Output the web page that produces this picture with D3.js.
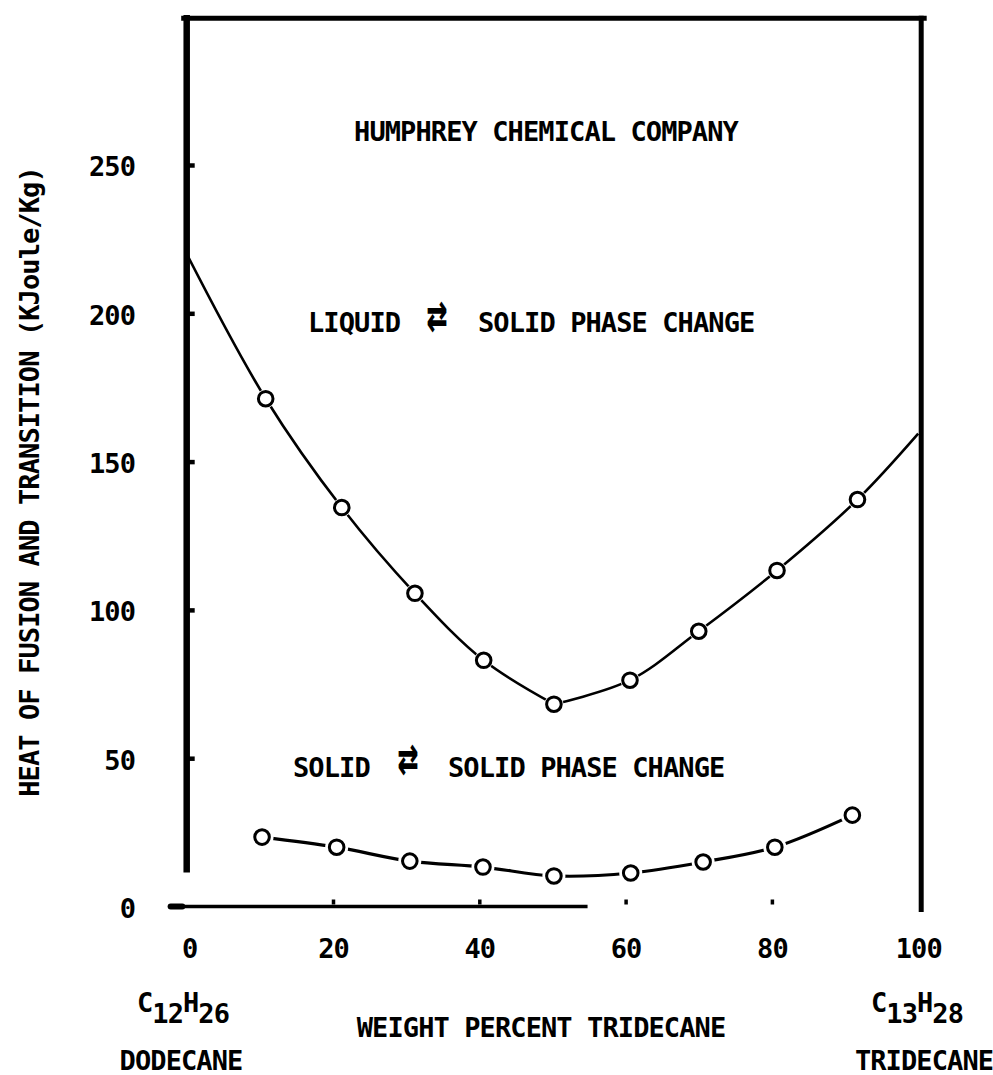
<!DOCTYPE html>
<html><head><meta charset="utf-8">
<script src="https://cdn.jsdelivr.net/npm/d3@7"></script>
<style>
body{margin:0;background:#fff}
svg{display:block}
text{font-family:"DejaVu Sans Mono",monospace;font-weight:bold;fill:#000;letter-spacing:-0.9px}
</style>
</head><body>
<svg id="chart" width="993" height="1075"></svg>
<script>
// ---- data ----
const xTicks = [0, 20, 40, 60, 80, 100];
const yTicks = [0, 50, 100, 150, 200, 250];
const liquidX = [10.8, 21.2, 31.2, 40.6, 50.2, 60.6, 70.0, 80.7, 91.7];
const liquidY = [171.2, 134.5, 105.6, 83.0, 68.2, 76.3, 92.8, 113.3, 137.2];
const liquidStart = [0, 220];      // curve meets left frame
const liquidEnd = [100, 159.4];    // curve meets right frame
const solidX = [10.3, 20.5, 30.5, 40.5, 50.2, 60.7, 70.6, 80.4, 91.0];
const solidY = [23.4, 20.0, 15.3, 13.3, 10.3, 11.3, 15.0, 20.0, 30.8];

const FS = 27;
const svg = d3.select("#chart");
const x = d3.scaleLinear().domain([0, 100]).range([186.7, 918.2]);
const y = d3.scaleLinear().domain([0, 250]).range([906.5, 165]);

// ---- frame ----
const frame = svg.append("g").attr("stroke", "#000").attr("fill", "none").attr("stroke-linecap", "square");
frame.append("line").attr("x1", x(0) - 3).attr("x2", x(100) + 6).attr("y1", y(299.5)).attr("y2", y(299.5)).attr("stroke-width", 5);
frame.append("line").attr("x1", x(0)).attr("x2", x(0)).attr("y1", y(299.5)).attr("y2", y(12.6)).attr("stroke-width", 6.5);
frame.append("line").attr("x1", x(100) + 3).attr("x2", x(100) + 3).attr("y1", y(299.5)).attr("y2", y(-1)).attr("stroke-width", 5);
frame.append("line").attr("x1", x(-2.2)).attr("x2", x(54.8)).attr("y1", y(0)).attr("y2", y(0)).attr("stroke-width", 3.5).attr("stroke-linecap", "butt");
frame.append("line").attr("x1", x(-2.2)).attr("x2", x(-0.6)).attr("y1", y(0)).attr("y2", y(0)).attr("stroke-width", 6).attr("stroke-linecap", "round");

// inner tick stubs (left) and tick dots (bottom)
svg.append("g").attr("transform", `translate(${x(0) + 2},0)`)
  .call(d3.axisRight(y).tickValues(yTicks.filter(d => d > 0)).tickSize(6).tickFormat(""))
  .call(g => g.select(".domain").remove())
  .selectAll("line").attr("stroke", "#000").attr("stroke-width", 4.5);
svg.append("g").attr("transform", `translate(0,${y(0) - 2})`)
  .call(d3.axisTop(x).tickValues(xTicks.filter(d => d > 0 && d < 100)).tickSize(5).tickFormat(""))
  .call(g => g.select(".domain").remove())
  .selectAll("line").attr("stroke", "#000").attr("stroke-width", 3.5);

// ---- axis labels ----
const yAx = svg.append("g").attr("transform", "translate(135,0)")
  .call(d3.axisLeft(y).tickValues(yTicks).tickSize(0).tickPadding(0).tickFormat(d3.format("d")));
yAx.select(".domain").remove();
yAx.attr("font-family", null).attr("font-size", null);
yAx.selectAll("text").attr("font-size", FS).attr("dy", "0.4em").attr("fill", "#000");

const xAx = svg.append("g").attr("transform", `translate(0,${y(0)})`)
  .call(d3.axisBottom(x).tickValues(xTicks).tickSize(0).tickPadding(32).tickFormat(d3.format("d")));
xAx.select(".domain").remove();
xAx.attr("font-family", null).attr("font-size", null);
xAx.selectAll("text").attr("font-size", FS).attr("fill", "#000");
xAx.selectAll(".tick").filter(d => d === 0).attr("transform", `translate(${x(0) + 3},0)`);

// y-axis title
svg.append("text").attr("font-size", FS).attr("text-anchor", "middle")
  .attr("transform", "translate(39,482) rotate(-90)")
  .text("HEAT OF FUSION AND TRANSITION (KJoule/Kg)");

// x-axis title
svg.append("text").attr("font-size", FS).attr("text-anchor", "middle")
  .attr("x", 541).attr("y", 1037).text("WEIGHT PERCENT TRIDECANE");

// formulas and names
function formula(cx, parts) {
  const t = svg.append("text").attr("font-size", FS).attr("text-anchor", "middle").attr("x", cx).attr("y", 1012);
  parts.forEach((p, i) => {
    t.append("tspan").attr("dy", i === 0 ? 0 : (i % 2 ? 11 : -11)).text(p);
  });
}
formula(183, ["C", "12", "H", "26"]);
formula(917, ["C", "13", "H", "28"]);
svg.append("text").attr("font-size", FS).attr("text-anchor", "middle").attr("x", 181).attr("y", 1070).text("DODECANE");
svg.append("text").attr("font-size", FS).attr("text-anchor", "middle").attr("x", 924).attr("y", 1070).text("TRIDECANE");

// annotations
function arrow(cx, base) {
  svg.append("text").attr("font-size", 24).attr("text-anchor", "middle")
    .attr("transform", `translate(${cx},${base}) scale(1.45,2.2)`)
    .style("letter-spacing", "0").text("⇄");
}
svg.append("text").attr("font-size", FS).attr("text-anchor", "middle").attr("x", 546).attr("y", 141).text("HUMPHREY CHEMICAL COMPANY");
svg.append("text").attr("font-size", FS).attr("x", 308).attr("y", 332).text("LIQUID");
arrow(437, 332);
svg.append("text").attr("font-size", FS).attr("x", 478).attr("y", 332).text("SOLID PHASE CHANGE");
svg.append("text").attr("font-size", FS).attr("x", 293).attr("y", 777).text("SOLID");
arrow(408, 775);
svg.append("text").attr("font-size", FS).attr("x", 448).attr("y", 777).text("SOLID PHASE CHANGE");

// ---- curves ----
const liq = liquidX.map((d, i) => [d, liquidY[i]]);
const sol = solidX.map((d, i) => [d, solidY[i]]);
const line = d3.line().x(d => x(d[0])).y(d => y(d[1])).curve(d3.curveCatmullRom.alpha(0.5));
const minIdx = liquidY.indexOf(d3.min(liquidY));
const leftBranch = [liquidStart, ...liq.slice(0, minIdx + 1)];
const rightBranch = [...liq.slice(minIdx), liquidEnd];
svg.append("path").attr("d", line(leftBranch)).attr("fill", "none").attr("stroke", "#000").attr("stroke-width", 2.6);
svg.append("path").attr("d", line(rightBranch)).attr("fill", "none").attr("stroke", "#000").attr("stroke-width", 2.6);
svg.append("path").attr("d", line(sol)).attr("fill", "none").attr("stroke", "#000").attr("stroke-width", 3.2);

// markers with small white halo (gaps where the line meets the circles)
function markers(pts, halo) {
  const g = svg.append("g");
  g.selectAll("circle.h").data(pts).join("circle").attr("class", "h")
    .attr("cx", d => x(d[0])).attr("cy", d => y(d[1])).attr("r", 9 + halo).attr("fill", "#fff");
  g.selectAll("circle.m").data(pts).join("circle").attr("class", "m")
    .attr("cx", d => x(d[0])).attr("cy", d => y(d[1])).attr("r", 7.3)
    .attr("fill", "#fff").attr("stroke", "#000").attr("stroke-width", 3);
}
markers(liq, 0.5);
markers(sol, 2.5);
</script>
</body></html>
